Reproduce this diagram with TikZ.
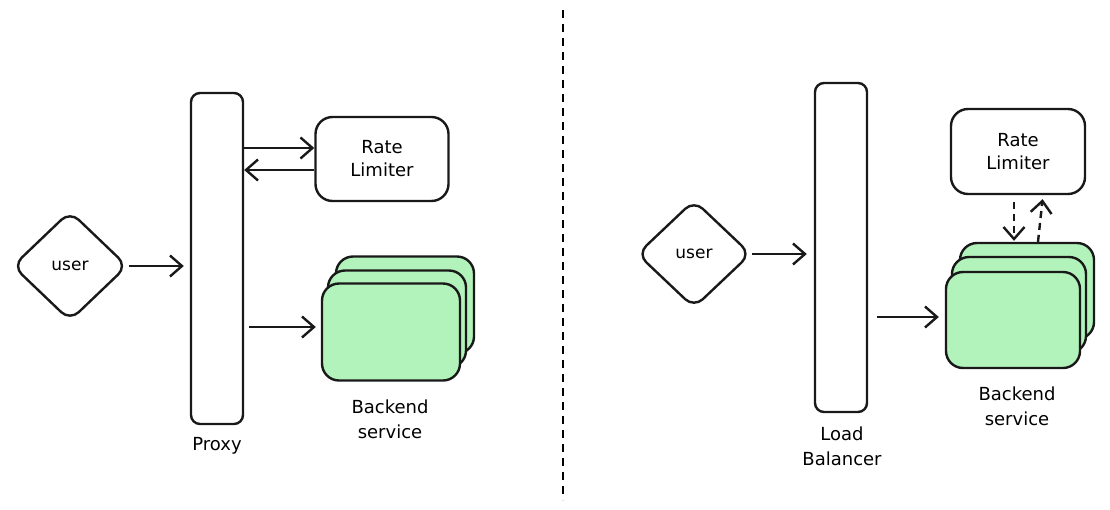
\documentclass[tikz,border=0pt]{standalone}
\usepackage{fontspec}
\setmainfont{DejaVu Sans}
\usetikzlibrary{shapes.geometric,arrows.meta}
\definecolor{cardgreen}{HTML}{B2F2BB}

\begin{document}
\begin{tikzpicture}
[x=1pt,y=-1pt,
 bar/.style={draw=black!90,line width=2.4pt,rounded corners=9pt,minimum width=52pt,inner sep=0pt,fill=white},
 limiter/.style={draw=black!90,line width=2.4pt,rounded corners=17pt,minimum width=133pt,minimum height=84pt,align=center,font=\fontsize{18}{23}\selectfont},
 card/.style={draw=black!90,line width=2.4pt,rounded corners=17pt,fill=cardgreen,minimum width=138pt,minimum height=97pt},
 usr/.style={diamond,draw=black!90,line width=2.4pt,rounded corners=12pt,minimum width=115pt,minimum height=110pt,inner sep=0pt,font=\fontsize{17}{18}\selectfont},
 lbl/.style={align=center,font=\fontsize{18}{25}\selectfont},
 arr/.style={draw=black!90,line width=2.4pt,-{Straight Barb[length=12pt,width=21pt]}}]
	\useasboundingbox (0,0) rectangle (1110,509);
	% left side: proxy
	\node[bar,minimum height=331pt] (proxy) at (217,258.5) {};
	\node[limiter] (rl1) at (382,159) {Rate\\Limiter};
	\node[usr] (user1) at (70,266) {user};
	\node[card] (back1) at (405,305) {};
	\node[card] (mid1) at (397,319) {};
	\node[card] (front1) at (391,332) {};
	\node[lbl] (svc1) at (390,419) {Backend\\service};
	\node[lbl] (proxylbl) at (217,446) {Proxy};
	\draw[arr,shorten >=6pt] (user1.east) -- (user1.east -| proxy.west);
	\draw[arr] ([yshift=11pt]rl1.west -| proxy.east) -- ([yshift=11pt]rl1.west);
	\draw[arr] ([yshift=-11pt]rl1.west) -- ([yshift=-11pt]rl1.west -| proxy.east);
	\draw[arr,shorten <=5pt,shorten >=5pt] ([yshift=5pt]front1.west -| proxy.east) -- ([yshift=5pt]front1.west);
	% divider
	\coordinate (top) at (563,10);
	\coordinate (bottom) at (563,500);
	\draw[line width=2pt,dash pattern=on 8pt off 6pt] (top) -- (bottom);
	% right side: load balancer
	\node[bar,minimum height=329pt] (lb) at (841,247.5) {};
	\node[limiter,minimum width=134pt,minimum height=85pt] (rl2) at (1018,151.5) {Rate\\Limiter};
	\node[usr,minimum width=114pt,minimum height=108pt] (user2) at (694,254) {user};
	\node[card,minimum width=134pt,minimum height=96pt] (back2) at (1027,291) {};
	\node[card,minimum width=134pt,minimum height=96pt] (mid2) at (1019,305) {};
	\node[card,minimum width=134pt,minimum height=96pt] (front2) at (1013,320) {};
	\node[lbl] (svc2) at (1017,406) {Backend\\service};
	\node[lbl] (lblbl) at (842,446) {Load\\Balancer};
	\draw[arr,shorten >=7pt] (user2.east) -- (user2.east -| lb.west);
	\draw[arr,shorten <=9pt,shorten >=6pt] ([yshift=3pt]front2.west -| lb.east) -- ([yshift=3pt]front2.west);
	\draw[arr,dash pattern=on 7pt off 5pt,shorten <=7pt,shorten >=1pt] ([xshift=-4pt]rl2.south) -- ([xshift=-4pt]rl2.south |- back2.north);
	\draw[arr,dash pattern=on 7pt off 5pt,shorten >=4pt] ([xshift=11pt]back2.north) -- ([xshift=25pt]rl2.south);
\end{tikzpicture}
\end{document}
